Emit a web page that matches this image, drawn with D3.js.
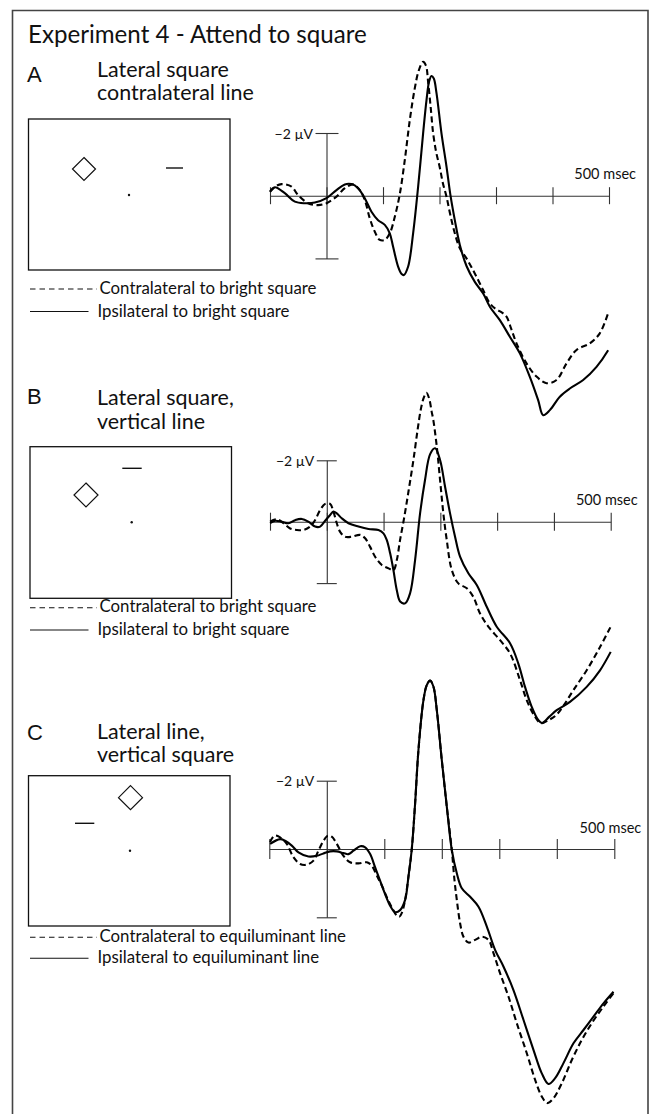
<!DOCTYPE html>
<html><head><meta charset="utf-8">
<script src="https://cdn.jsdelivr.net/npm/d3@7"></script>
<style>body{margin:0;background:#fff} svg{display:block}</style>
</head><body><svg id="c" width="651" height="1114"></svg>
<script>
// ---------- text ----------
const chartTitle = "Experiment 4 - Attend to square";
const panelLetters = ["A", "B", "C"];
const titlesA = ["Lateral square", "contralateral line"];
const titlesB = ["Lateral square,", "vertical line"];
const titlesC = ["Lateral line,", "vertical square"];
const legendA = ["Contralateral to bright square", "Ipsilateral to bright square"];
const legendB = ["Contralateral to bright square", "Ipsilateral to bright square"];
const legendC = ["Contralateral to equiluminant line", "Ipsilateral to equiluminant line"];
const xTicks = [-100, 0, 100, 200, 300, 400, 500];
const xTickLabel = "500 msec";
const yTicks = [-2, 2];
const yTickLabel = "\u22122 \u00b5V";

// ---------- data: [time ms, amplitude µV] (negative plotted up) ----------
const contraA = [[-100,-0.12],[-90,-0.30],[-79.6,-0.37],[-61.9,-0.29],[-50.3,-0.02],[-32.6,0.24],[-14.9,0.30],[0,0.24],[17.7,0.03],[32.4,-0.24],[47.1,-0.36],[58.9,-0.18],[67.8,0.14],[76.6,0.72],[85.5,1.15],[94.3,1.41],[103.2,1.41],[112,1.20],[120.9,0.67],[129.7,-0.05],[138.6,-1.14],[147.4,-2.41],[156.3,-3.43],[163.4,-4.0],[171,-4.27],[176,-4.15],[180,-3.6],[184.5,-2.8],[188.7,-2.0],[194,-1.4],[200.5,-0.9],[206,-0.4],[212.4,0.03],[219,0.6],[227.1,1.20],[236,1.68],[247.8,2.0],[262.5,2.48],[277.2,3.01],[289,3.43],[300,3.62],[310,3.72],[318.6,3.86],[327,4.25],[336.3,4.71],[354,5.35],[371.7,5.77],[389.4,5.98],[407.1,5.88],[424.8,5.35],[442.5,4.92],[466,4.71],[483.7,4.39],[498.4,3.75]];
const ipsiA = [[-100,-0.13],[-91.5,-0.27],[-73.8,-0.08],[-56,0.19],[-38.4,0.24],[-20.7,0.22],[0,0.08],[17.7,-0.18],[32.4,-0.36],[44.2,-0.37],[55.9,-0.24],[67.7,0.08],[79.6,0.51],[91.3,0.78],[103.2,0.93],[112,1.20],[117.9,1.63],[126.7,2.26],[133,2.50],[137,2.53],[144.5,2.26],[153.3,1.20],[162.2,-0.29],[171,-1.99],[177,-3.05],[181.6,-3.64],[185.8,-3.82],[189.9,-3.74],[194.7,-3.27],[203.5,-1.99],[212.4,-0.93],[219.5,0],[227.1,0.78],[236,1.57],[248,2.25],[262.5,2.75],[277.3,3.12],[289.1,3.54],[306.8,3.97],[324.5,4.50],[342.2,5.03],[359.9,5.78],[374.6,6.52],[383.5,7.00],[395.3,6.84],[413,6.41],[430.7,6.15],[454.3,5.88],[477.9,5.46],[498.5,4.93]];
const contraB = [[-99.8,0],[-88.1,-0.08],[-76.3,0.05],[-64.6,0.22],[-52.8,0.27],[-41.1,0.27],[-29.4,0.16],[-20.6,-0.05],[-11.7,-0.38],[-2.9,-0.58],[5.9,-0.58],[11.7,-0.33],[17.6,0.05],[23.5,0.33],[32.3,0.49],[44,0.49],[58.7,0.43],[67.5,0.54],[76.3,0.82],[85.1,1.14],[96.9,1.41],[108.6,1.52],[117.4,1.58],[123.3,1.25],[129,0.6],[136,-0.1],[144,-1.0],[152.5,-2.0],[160,-3.0],[166,-3.7],[171,-4.05],[175.5,-4.2],[180.5,-4.0],[184.5,-3.6],[187.7,-3.3],[193.7,-2.45],[199.5,-1.36],[205.3,-0.27],[211.3,0.60],[220.1,1.57],[231.7,2.01],[246.5,2.17],[258.1,2.45],[269.9,2.99],[284.5,3.42],[305.1,3.86],[322.7,4.29],[340.3,5.16],[352.1,5.81],[365,6.3],[377,6.56],[392,6.45],[404,6.3],[416.6,6.0],[434.2,5.49],[457.7,4.84],[481.2,4.08],[500,3.42]];
const ipsiB = [[-99.8,0.05],[-91,-0.03],[-79.3,0],[-67.5,0.05],[-55.8,-0.05],[-44,-0.09],[-32.3,0],[-20.6,0.16],[-11.7,0.16],[-2.9,-0.03],[5.9,-0.22],[11.7,-0.33],[17.6,-0.27],[26.4,-0.11],[38.2,0.05],[55.8,0.16],[73.4,0.24],[91,0.27],[99.8,0.38],[105.7,0.60],[111.6,1.03],[117.4,1.58],[123.3,2.23],[129.2,2.6],[138,2.66],[146.7,2.33],[155.5,1.25],[164.3,-0.27],[173,-1.36],[182,-2.2],[190.7,-2.39],[199.5,-2.01],[208.3,-1.14],[217.1,-0.27],[225.9,0.49],[234.7,1.14],[249.3,1.68],[264.1,2.06],[281.7,2.77],[299.3,3.42],[322.7,3.96],[337.3,4.62],[349.1,5.38],[360.9,6.03],[372,6.45],[379,6.56],[392,6.35],[404.9,6.14],[428.3,5.87],[457.7,5.38],[481.2,4.84],[500,4.24]];
const contraC = [[-98.6,-0.20],[-91,-0.39],[-81.2,-0.34],[-69.6,-0.15],[-58,0.24],[-46.4,0.44],[-34.8,0.46],[-23.2,0.34],[-14.5,0.05],[-5.8,-0.24],[1.7,-0.39],[8.7,-0.36],[17.4,-0.15],[29,0.20],[40.6,0.39],[55.1,0.42],[69.6,0.39],[78.3,0.49],[87,0.78],[95.7,1.07],[104.3,1.41],[113,1.71],[121.7,1.95],[126.4,1.98],[131,1.85],[136.2,1.49],[142,0.81],[147.8,0],[153.6,-1.34],[159.4,-2.90],[168.1,-4.36],[173.9,-4.80],[179.7,-4.93],[185.5,-4.75],[191.3,-4.07],[200,-2.60],[208.7,-1.24],[217.4,0.03],[222,0.9],[226.1,1.49],[231.9,2.18],[237.7,2.57],[246.4,2.74],[258,2.66],[269.6,2.57],[281.2,2.66],[289.9,3.05],[301.4,3.64],[315.9,4.32],[330.4,5.10],[347.8,5.98],[362.3,6.76],[373.9,7.25],[383.8,7.44],[394.2,7.30],[408.7,6.86],[426.1,6.18],[443.5,5.59],[460.9,5.10],[481.2,4.61],[498.6,4.22]];
const ipsiC = [[-98.6,-0.15],[-81.2,-0.29],[-72.5,-0.24],[-60.9,-0.10],[-49.3,0.10],[-31.9,0.22],[-17.4,0.20],[-5.8,0.13],[5.8,0.07],[17.4,0.07],[29,0.12],[37.7,0.15],[46.4,0.05],[58,-0.08],[66.7,-0.05],[75.4,0.15],[84.1,0.54],[92.8,0.93],[101.4,1.32],[110.1,1.66],[118.8,1.85],[127.5,1.79],[136.2,1.49],[142,0.81],[147.8,0],[153.6,-1.34],[159.4,-2.90],[168.1,-4.36],[173.9,-4.80],[179.7,-4.93],[185.5,-4.75],[191.3,-4.07],[200,-2.60],[208.7,-1.24],[217.4,0.03],[226.1,0.71],[234.8,1.15],[249.3,1.40],[263.8,1.69],[278.3,2.27],[292.8,2.96],[307.2,3.44],[324.6,4.13],[342,5.00],[359.4,5.88],[373.9,6.57],[385.5,6.88],[397.1,6.71],[411.6,6.27],[429,5.69],[446.4,5.30],[463.8,4.91],[481.2,4.52],[498.6,4.18]];

// ---------- layout ----------
const panels = [
  {letter: panelLetters[0], titles: titlesA, legend: legendA, contra: contraA, ipsi: ipsiA,
   L: {letterY: 82, titleY: [77, 100], box: [28.5, 119, 201.5, 151], diamond: [84, 169, 11.5], bar: [166, 183, 168], dot: [129, 195],
       legY: [289, 311.5], legTY: [293.5, 316.5], xr: [270, 609], yr: [133, 258.4], th: 8.5, tl: 11, tr: 12}},
  {letter: panelLetters[1], titles: titlesB, legend: legendB, contra: contraB, ipsi: ipsiB,
   L: {letterY: 403.5, titleY: [405, 429.3], box: [30, 446.7, 201.5, 151.6], diamond: [86, 495, 12], bar: [122.3, 141.7, 468.3], dot: [131.7, 522.3],
       legY: [607.7, 630], legTY: [612, 634.5], xr: [270, 610.7], yr: [460.3, 583.1], th: 9, tl: 10, tr: 10}},
  {letter: panelLetters[2], titles: titlesC, legend: legendC, contra: contraC, ipsi: ipsiC,
   L: {letterY: 740, titleY: [739.3, 761.7], box: [28.5, 775.7, 201.5, 150.3], diamond: [130.5, 797.7, 12], bar: [75, 94.3, 823.3], dot: [130, 850.7],
       legY: [937.3, 958.3], legTY: [942, 963], xr: [269.3, 614.3], yr: [780.7, 917.3], th: 10, tl: 10, tr: 10}}
];

const svg = d3.select("#c");
const SANS = "Lato, 'Open Sans', sans-serif";

// frame (open at bottom, cut by the page edge)
svg.append("path").attr("d", "M12.5,1114V10.5H648V1114")
  .attr("fill", "none").attr("stroke", "#444").attr("stroke-width", 1.6);

function fit(sel, target) {
  const n = sel.node(); const fs = parseFloat(sel.attr("font-size"));
  const w = n.getComputedTextLength();
  if (w > 0) sel.attr("font-size", (fs * target / w).toFixed(2));
  return parseFloat(sel.attr("font-size"));
}

const t = svg.append("text").attr("x", 28).attr("y", 42.5).attr("font-family", SANS)
  .attr("font-size", 21).attr("fill", "#111").text(chartTitle);
fit(t, 339);

let subFS = null, legFS = null;

panels.forEach((p, i) => {
  const L = p.L;
  const g = svg.append("g");
  g.append("text").attr("x", 27).attr("y", L.letterY).attr("font-family", "'Liberation Sans', Arial, sans-serif")
    .attr("font-size", 22).attr("fill", "#111").text(p.letter);
  p.titles.forEach((s, k) => {
    const tt = g.append("text").attr("x", 97).attr("y", L.titleY[k]).attr("font-family", SANS)
      .attr("font-size", 18).attr("fill", "#111").text(s);
    if (subFS === null && k === 0) subFS = fit(tt, 132);
    else tt.attr("font-size", subFS);
  });

  // stimulus display
  const [bx, by, bw, bh] = L.box;
  g.append("rect").attr("x", bx).attr("y", by).attr("width", bw).attr("height", bh)
    .attr("fill", "none").attr("stroke", "#111").attr("stroke-width", 1.3);
  const [dx, dy, dr] = L.diamond;
  g.append("path").attr("d", `M${dx},${dy-dr}L${dx+dr},${dy}L${dx},${dy+dr}L${dx-dr},${dy}Z`)
    .attr("fill", "none").attr("stroke", "#111").attr("stroke-width", 1.2);
  g.append("line").attr("x1", L.bar[0]).attr("x2", L.bar[1]).attr("y1", L.bar[2]).attr("y2", L.bar[2])
    .attr("stroke", "#111").attr("stroke-width", 1.4);
  g.append("circle").attr("cx", L.dot[0]).attr("cy", L.dot[1]).attr("r", 1.2).attr("fill", "#111");

  // legend
  g.append("line").attr("x1", 30).attr("x2", 97).attr("y1", L.legY[0]).attr("y2", L.legY[0])
    .attr("stroke", "#111").attr("stroke-width", 1.1).attr("stroke-dasharray", "5.5,4");
  g.append("line").attr("x1", 30).attr("x2", 88.5).attr("y1", L.legY[1]).attr("y2", L.legY[1])
    .attr("stroke", "#111").attr("stroke-width", 1.1);
  const l1 = g.append("text").attr("x", 99.5).attr("y", L.legTY[0]).attr("font-family", SANS)
    .attr("font-size", 15).attr("fill", "#111").text(p.legend[0]);
  if (legFS === null) legFS = fit(l1, 217); else l1.attr("font-size", legFS);
  g.append("text").attr("x", 97.5).attr("y", L.legTY[1]).attr("font-family", SANS)
    .attr("font-size", legFS).attr("fill", "#111").text(p.legend[1]);

  // ERP plot
  const x = d3.scaleLinear().domain([-100, 500]).range(L.xr);
  const y = d3.scaleLinear().domain([-2, 2]).range(L.yr);

  const gx = g.append("g").attr("transform", `translate(0,${y(0)})`)
    .call(d3.axisBottom(x).tickValues(xTicks).tickSizeInner(L.th).tickSizeOuter(0).tickFormat(""));
  gx.selectAll(".tick line").attr("y1", -L.th).attr("y2", L.th).attr("stroke", "#333").attr("stroke-width", 1.1);
  gx.select(".domain").attr("stroke", "#333").attr("stroke-width", 1.1);

  const gy = g.append("g").attr("transform", `translate(${x(0)},0)`)
    .call(d3.axisLeft(y).tickValues(yTicks).tickSizeInner(0).tickSizeOuter(0)
      .tickFormat(d => d === -2 ? yTickLabel : ""));
  gy.selectAll(".tick line").attr("x1", -L.tl).attr("x2", L.tr).attr("stroke", "#333").attr("stroke-width", 1.1);
  gy.select(".domain").attr("stroke", "#333").attr("stroke-width", 1.1);
  gy.selectAll(".tick text").attr("x", -L.tl - 2.5).attr("dy", "0.36em")
    .attr("font-family", SANS).attr("font-size", 14).attr("fill", "#111");

  g.append("text").attr("x", x(500) + 27).attr("y", y(0) - 16.5).attr("text-anchor", "end")
    .attr("font-family", SANS).attr("font-size", 14.5).attr("fill", "#111").text(xTickLabel);

  const line = d3.line().x(d => x(d[0])).y(d => y(d[1])).curve(d3.curveCatmullRom.alpha(0.5));
  g.append("path").datum(p.ipsi).attr("d", line).attr("fill", "none")
    .attr("stroke", "#000").attr("stroke-width", 2.1).attr("stroke-linejoin", "round");
  g.append("path").datum(p.contra).attr("d", line).attr("fill", "none")
    .attr("stroke", "#000").attr("stroke-width", 2.1).attr("stroke-dasharray", "6,3.5");
});
</script></body></html>
